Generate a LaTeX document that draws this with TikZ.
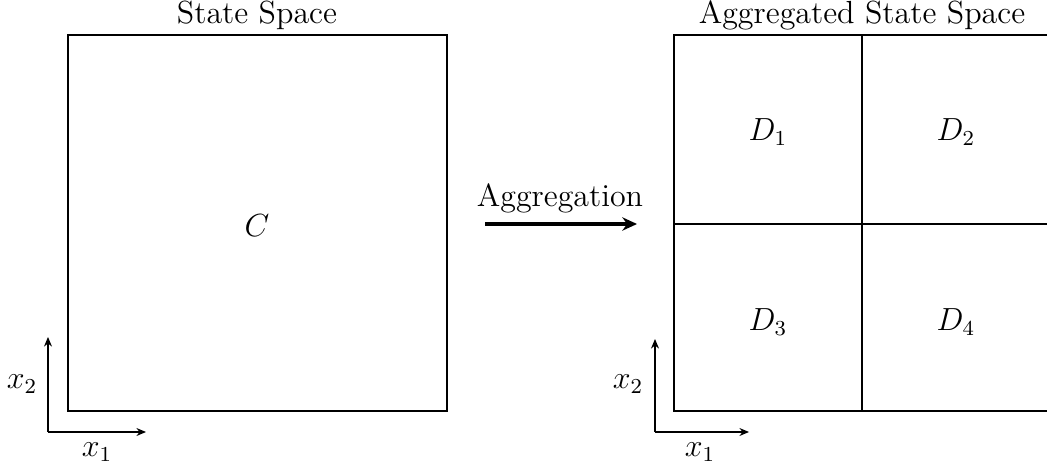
\documentclass[tikz,border=0pt]{standalone}
\usetikzlibrary{arrows.meta}
\begin{document}
\begin{tikzpicture}[x=0.01319cm,y=-0.01319cm,
  lbl/.style={font=\large,inner sep=0pt},
  box/.style={draw,line width=0.45pt},
  axis/.style={-{Stealth[length=3.6pt,width=3pt]},line width=0.4pt},
  bigarrow/.style={-{Stealth[length=5.5pt,width=5pt]},line width=1.2pt}]
\useasboundingbox (0,0) rectangle (1047,467);
\clip (0,0) rectangle (1047,467);
% left state space
\coordinate (L1) at (68,35);
\coordinate (L2) at (447,411);
\draw[box] (L1) rectangle (L2);
\node[lbl] (ltitle) at (257,15) {State Space};
\node[lbl] (C) at (257,226) {$C$};
% right aggregated space
\coordinate (R1) at (674,35);
\coordinate (R2) at (1050,411);
\coordinate (Rt) at (862,35);
\coordinate (Rb) at (862,411);
\coordinate (Rl) at (674,224);
\coordinate (Rr) at (1050,224);
\draw[box] (R1) rectangle (R2);
\draw[box] (Rt) -- (Rb);
\draw[box] (Rl) -- (Rr);
\node[lbl] (rtitle) at (862,15) {Aggregated State Space};
\node[lbl] (D1) at (768,132) {$D_1$};
\node[lbl] (D2) at (956,132) {$D_2$};
\node[lbl] (D3) at (768,322) {$D_3$};
\node[lbl] (D4) at (956,322) {$D_4$};
% aggregation arrow
\coordinate (A1) at (485,224);
\coordinate (A2) at (637,224);
\draw[bigarrow] (A1) -- (A2);
\node[lbl] (agg) at (560,198) {Aggregation};
% left axes
\coordinate (O1) at (48,432);
\coordinate (Y1) at (48,337);
\coordinate (X1) at (146,432);
\draw[axis] (O1) -- (Y1);
\draw[axis] (O1) -- (X1);
\node[lbl] (lx2) at (22,384) {$x_2$};
\node[lbl] (lx1) at (97,452) {$x_1$};
% right axes
\coordinate (O2) at (655,432);
\coordinate (Y2) at (655,339);
\coordinate (X2) at (749,432);
\draw[axis] (O2) -- (Y2);
\draw[axis] (O2) -- (X2);
\node[lbl] (rx2) at (628,384) {$x_2$};
\node[lbl] (rx1) at (700,452) {$x_1$};
\end{tikzpicture}
\end{document}
